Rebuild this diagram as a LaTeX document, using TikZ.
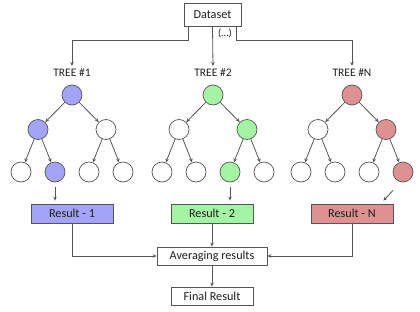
\documentclass[tikz,border=0pt]{standalone}
\usepackage{fontspec}
\setmainfont{Carlito}
\usetikzlibrary{arrows.meta}
\definecolor{cblue}{RGB}{163,163,247}
\definecolor{cgreen}{RGB}{163,245,163}
\definecolor{cred}{RGB}{222,145,145}
\definecolor{cline}{RGB}{85,85,85}
\definecolor{ctext}{RGB}{30,30,30}
\tikzset{
  arr/.style={draw=cline, line width=0.8pt, -{Stealth[length=4pt,width=3.5pt]}},
  tnode/.style={circle, draw=cline, line width=0.7pt, minimum size=20pt, inner sep=0pt, fill=white},
  bnode/.style={tnode, fill=cblue},
  gnode/.style={tnode, fill=cgreen},
  rnode/.style={tnode, fill=cred},
  box/.style={draw=cline, line width=0.8pt, text=ctext, font=\fontsize{12.2}{14}\selectfont, inner sep=0pt, fill=white},
  lbl/.style={text=ctext, font=\fontsize{11.5}{13}\selectfont, inner sep=1pt}
}
\begin{document}
\begin{tikzpicture}[x=1pt,y=-1pt]
\useasboundingbox (0,0) rectangle (420,311);
% dataset
\node[box, minimum width=57pt, minimum height=23pt] (ds) at (212.5,14.5) {Dataset};
\node[lbl, font=\fontsize{10.5}{12}\selectfont] (dots) at (225,33) {(…)};
% tree labels
\node[lbl] (tl1) at (72,73) {TREE \#1};
\node[lbl] (tl2) at (213,73) {TREE \#2};
\node[lbl] (tl3) at (352,73) {TREE \#N};
\draw[arr] ([xshift=5pt]ds.south west) -- ++(0,14) -| ([yshift=2pt]tl1.north);
\draw[arr] (ds.south) -- ([yshift=2pt]tl2.north);
\draw[arr] ([xshift=-5pt]ds.south east) -- ++(0,14) -| ([yshift=2pt]tl3.north);
% tree 1
\node[bnode] (t1r) at (72,95) {};
\node[bnode] (t1l) at (38,129.5) {};
\node[tnode] (t1R) at (106,129.5) {};
\node[tnode] (t1ll) at (21,172) {};
\node[bnode] (t1lr) at (55,172) {};
\node[tnode] (t1Rl) at (89,172) {};
\node[tnode] (t1RR) at (123,172) {};
% tree 2
\node[gnode] (t2r) at (213,95) {};
\node[tnode] (t2l) at (179,129.5) {};
\node[gnode] (t2R) at (247,129.5) {};
\node[tnode] (t2ll) at (162,172) {};
\node[tnode] (t2lr) at (196,172) {};
\node[gnode] (t2Rl) at (230,172) {};
\node[tnode] (t2RR) at (264,172) {};
% tree N
\node[rnode] (t3r) at (352,95) {};
\node[tnode] (t3l) at (318,129.5) {};
\node[rnode] (t3R) at (386,129.5) {};
\node[tnode] (t3ll) at (301,172) {};
\node[tnode] (t3lr) at (335,172) {};
\node[tnode] (t3Rl) at (369,172) {};
\node[rnode] (t3RR) at (403,172) {};
\foreach \t in {1,2,3}{
  \draw[arr] (t\t r) -- (t\t l);
  \draw[arr] (t\t r) -- (t\t R);
  \draw[arr] (t\t l) -- (t\t ll);
  \draw[arr] (t\t l) -- (t\t lr);
  \draw[arr] (t\t R) -- (t\t Rl);
  \draw[arr] (t\t R) -- (t\t RR);
}
% results
\node[box, fill=cblue, minimum width=82pt, minimum height=19pt] (res1) at (72,213.5) {Result - 1};
\node[box, fill=cgreen, minimum width=82pt, minimum height=19pt] (res2) at (212,213.5) {Result - 2};
\node[box, fill=cred, minimum width=82pt, minimum height=19pt] (res3) at (352,213.5) {Result - N};
\draw[arr] ([yshift=-5pt]t1lr.south) -- ([yshift=3pt]t1lr.south |- res1.north);
\draw[arr] ([yshift=-5pt]t2Rl.south) -- ([yshift=3pt]t2Rl.south |- res2.north);
\draw[arr] ([shift={(-10pt,-8pt)}]t3RR.south) -- ([shift={(-10pt,3pt)}]res3.north east);
% averaging
\node[box, minimum width=110pt, minimum height=18pt] (avg) at (212,256) {Averaging results};
\node[box, minimum width=82pt, minimum height=18pt] (fin) at (212,296) {Final Result};
\draw[arr] (res1.south) |- (avg.west);
\draw[arr] (res2.south) -- (avg.north);
\draw[arr] (res3.south) |- (avg.east);
\draw[arr] (avg.south) -- (fin.north);
\end{tikzpicture}
\end{document}
